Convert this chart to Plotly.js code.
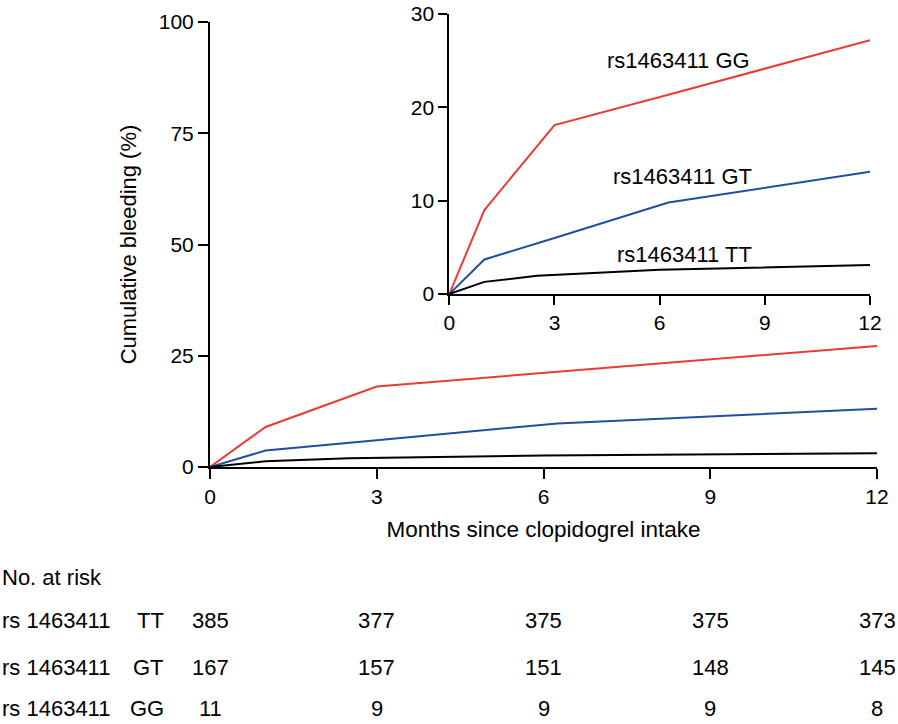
<!DOCTYPE html>
<html>
<head>
<meta charset="utf-8">
<script src="https://cdn.plot.ly/plotly-3.0.1.min.js"></script>
<style>html,body{margin:0;padding:0;background:#fff;}#chart{width:898px;height:724px;}</style>
</head>
<body>
<div id="chart"></div>
<script>
// Cumulative bleeding (%) by genotype
const ggMonths = [0, 1, 3, 6.3, 12];
const ggBleed  = [0, 9.0, 18.1, 21.4, 27.2];
const gtMonths = [0, 1, 3, 6.25, 12];
const gtBleed  = [0, 3.7, 6.0, 9.8, 13.1];
const ttMonths = [0, 1, 2.5, 4.5, 6, 12];
const ttBleed  = [0, 1.3, 1.95, 2.35, 2.6, 3.1];

const seriesNames = ["rs1463411 GG", "rs1463411 GT", "rs1463411 TT"];

// Number at risk table
const riskTimes = [0, 3, 6, 9, 12];
const riskRowLabels = ["rs 1463411", "rs 1463411", "rs 1463411"];
const riskGenotypes = ["TT", "GT", "GG"];
const riskTT = [385, 377, 375, 375, 373];
const riskGT = [167, 157, 151, 148, 145];
const riskGG = [11, 9, 9, 9, 8];

const mainYTicks = [0, 25, 50, 75, 100];
const insetYTicks = [0, 10, 20, 30];
const xTicks = [0, 3, 6, 9, 12];

const RED = '#ec3a34', BLUE = '#1f4fa0', BLACK = '#000000';
const FONT = 'Liberation Sans, Arial, Helvetica, sans-serif';

const W = 898, H = 724;
const M = {l: 210, r: 21, t: 14, b: 257};
const PW = W - M.l - M.r, PH = H - M.t - M.b;
const px2x = p => (p - M.l) / PW;          // pixel -> paper x
const px2y = p => (H - M.b - p) / PH;      // pixel -> paper y

function line(x, y, color, name, xa, ya) {
  return {x: x, y: y, type: 'scatter', mode: 'lines', name: name,
    line: {color: color, width: 2}, xaxis: xa, yaxis: ya, hoverinfo: 'skip', showlegend: false};
}

const traces = [
  line(ggMonths, ggBleed, RED, seriesNames[0], 'x', 'y'),
  line(gtMonths, gtBleed, BLUE, seriesNames[1], 'x', 'y'),
  line(ttMonths, ttBleed, BLACK, seriesNames[2], 'x', 'y'),
  line(ggMonths, ggBleed, RED, seriesNames[0], 'x2', 'y2'),
  line(gtMonths, gtBleed, BLUE, seriesNames[1], 'x2', 'y2'),
  line(ttMonths, ttBleed, BLACK, seriesNames[2], 'x2', 'y2')
];

const axisBase = {
  showgrid: false, zeroline: false, showline: true, linewidth: 2, linecolor: '#000',
  ticks: 'outside', ticklen: 10, tickwidth: 2, tickcolor: '#000',
  tickfont: {family: FONT, size: 21, color: '#000'}, fixedrange: true
};

const TXT = {family: FONT, size: 22, color: '#000'};
const annotations = [];
// inset labels
const insetLabelX = [6.55, 6.65, 6.7];
const insetLabelY = [25.0, 12.6, 4.2];
for (let i = 0; i < 3; i++) {
  annotations.push({x: insetLabelX[i], y: insetLabelY[i], xref: 'x2', yref: 'y2',
    text: seriesNames[i], showarrow: false, xanchor: 'center', yanchor: 'middle', font: TXT});
}
// risk table
const rowPix = [620, 667, 708];
annotations.push({x: px2x(0), y: px2y(577), xref: 'paper', yref: 'paper', xanchor: 'left', yanchor: 'middle',
  text: 'No. at risk', showarrow: false, font: TXT});
const rows = [riskTT, riskGT, riskGG];
for (let r = 0; r < 3; r++) {
  const yy = px2y(rowPix[r]);
  annotations.push({x: px2x(0), y: yy, xref: 'paper', yref: 'paper', xanchor: 'left', yanchor: 'middle',
    text: riskRowLabels[r], showarrow: false, font: TXT});
  annotations.push({x: px2x(166), y: yy, xref: 'paper', yref: 'paper', xanchor: 'right', yanchor: 'middle',
    text: riskGenotypes[r], showarrow: false, font: TXT});
  for (let c = 0; c < riskTimes.length; c++) {
    annotations.push({x: riskTimes[c], y: yy, xref: 'x', yref: 'paper', xanchor: 'center', yanchor: 'middle',
      text: String(rows[r][c]), showarrow: false, font: TXT});
  }
}

const layout = {
  width: W, height: H,
  margin: M,
  paper_bgcolor: '#fff', plot_bgcolor: 'rgba(0,0,0,0)',
  showlegend: false,
  font: {family: FONT, color: '#000'},
  xaxis: Object.assign({}, axisBase, {domain: [0, 1], range: [0, 12], tickvals: xTicks, anchor: 'y',
    title: {text: 'Months since clopidogrel intake', font: {family: FONT, size: 22.5, color: '#000'}, standoff: 14}}),
  yaxis: Object.assign({}, axisBase, {domain: [0, 0.9823], range: [0, 100], tickvals: mainYTicks, anchor: 'x',
    title: {text: 'Cumulative bleeding (%)', font: {family: FONT, size: 22, color: '#000'}, standoff: 16}}),
  xaxis2: Object.assign({}, axisBase, {domain: [0.3588, 0.9895], range: [0, 12], tickvals: xTicks, anchor: 'y2', ticklen: 9}),
  yaxis2: Object.assign({}, axisBase, {domain: [0.3819, 1.0], range: [0, 30], tickvals: insetYTicks, anchor: 'x2', ticklen: 9}),
  annotations: annotations
};

Plotly.newPlot('chart', traces, layout, {staticPlot: true, displayModeBar: false});
</script>
</body>
</html>
